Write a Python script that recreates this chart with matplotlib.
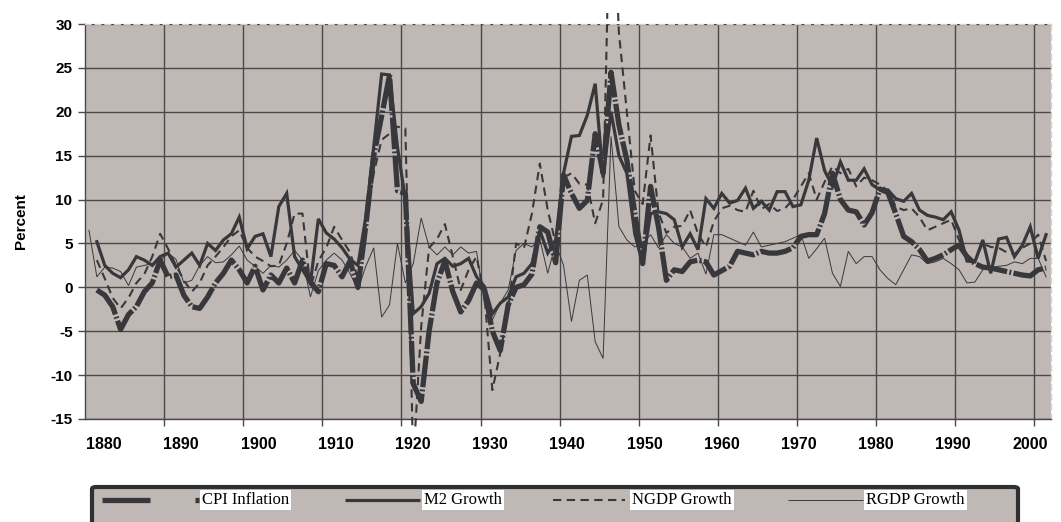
import matplotlib

matplotlib.use("Agg")
import matplotlib.pyplot as plt
import numpy as np
from matplotlib.lines import Line2D
from matplotlib.patches import Rectangle, FancyBboxPatch

plt.rcParams["axes.unicode_minus"] = False

nan = np.nan
years = np.arange(1880, 2002)

cpi = [
    nan, -0.3, -0.9, -2.2, -4.8, -3.1, -2.2, -0.5, 0.5, 3.1,
    1.2, 1.4, -0.9, -2.2, -2.4, -1.1, 0.5, 1.6, 3.1, 2.0,
    0.5, 2.4, -0.3, 1.4, 0.5, 2.2, 0.5, 3.1, 0.6, -0.5,
    2.7, 2.5, 1.2, 3.0, 0.0, 7.0, 15.0, 19.5, 24.2, 11.0,
    10.7, -11.0, -13.0, -5.0, 0.5, 3.0, -0.5, -2.8, -1.5, 0.5,
    -0.3, -5.0, -7.2, -2.0, 0.0, 0.3, 1.5, 6.9, 6.3, 2.8,
    12.8, 10.7, 9.0, 9.9, 17.5, 13.0, 24.5, 18.5, 14.5, 8.5,
    2.7, 11.5, 6.9, 0.8, 2.0, 1.8, 2.9, 3.1, 2.9, 1.4,
    1.9, 2.4, 4.1, 3.9, 3.7, 4.1, 3.9, 3.9, 4.1, 4.5,
    5.8, 6.0, 6.0, 8.4, 13.0, 10.0, 8.8, 8.6, 7.1, 8.5,
    11.2, 10.8, 8.4, 5.8, 5.2, 4.3, 3.0, 3.3, 3.7, 4.3,
    4.8, 3.5, 2.7, 2.3, 2.2, 2.0, 1.8, 1.6, 1.4, 1.3,
    2.0, 2.2,
]

m2 = [
    nan, 5.2, 2.5, 1.6, 1.1, 2.0, 3.5, 3.1, 2.5, 3.5,
    3.9, 2.3, 3.1, 3.9, 2.5, 5.0, 4.2, 5.4, 6.1, 8.0,
    4.4, 5.8, 6.1, 3.5, 9.2, 10.7, 3.5, 2.0, 0.5, 7.8,
    6.2, 5.5, 4.5, 3.2, 2.5, 8.0, 16.0, 24.3, 24.2, 16.0,
    10.0, -3.0, -2.2, -0.7, 2.7, 3.3, 2.4, 2.7, 3.3, 1.2,
    0.1, -3.0, -1.8, -1.1, 1.2, 1.6, 2.7, 6.5, 3.9, 5.4,
    13.0, 17.2, 17.3, 19.6, 23.2, 12.5, 20.0, 15.0, 13.0, 6.1,
    2.7, 8.4, 8.6, 8.4, 7.7, 4.6, 6.1, 4.3, 10.1, 9.0,
    10.7, 9.6, 9.9, 11.3, 9.0, 9.8, 8.8, 10.9, 10.9, 9.2,
    9.4, 12.2, 17.0, 13.3, 11.5, 14.3, 12.2, 12.2, 13.5, 11.7,
    11.1, 11.1, 10.1, 9.8, 10.7, 8.8, 8.2, 8.0, 7.7, 8.6,
    6.5, 3.0, 2.9, 5.4, 1.6, 5.5, 5.7, 3.5, 4.8, 6.9,
    3.3, 6.0,
]

ngdp = [
    nan, 3.1, 1.0, -1.2, -2.4, -1.2, 0.5, 1.5, 3.5, 6.1,
    4.4, 2.5, 0.8, -0.5, 0.5, 2.5, 3.5, 4.6, 5.8, 6.5,
    4.5, 3.5, 3.0, 2.4, 2.5, 5.0, 8.4, 8.4, 0.0, 3.0,
    4.5, 6.9, 5.4, 4.0, 1.0, 7.0, 13.0, 16.8, 17.5, 18.3,
    18.1, -20.0, -4.5, 4.5, 5.5, 7.2, 3.5, -0.3, 2.0, 3.5,
    -1.0, -11.7, -7.5, -2.5, 5.0, 4.5, 8.4, 14.1, 8.8, 5.0,
    12.5, 13.0, 11.8, 11.7, 7.3, 10.0, 50.0, 29.0, 20.0, 11.0,
    9.5, 17.3, 8.5, 6.2, 6.9, 7.0, 8.8, 6.1, 4.6, 7.5,
    9.0, 9.3, 8.8, 8.6, 11.0, 8.9, 9.5, 8.7, 9.0, 10.0,
    11.5, 13.0, 10.0, 12.0, 13.8, 13.0, 13.5, 11.5, 12.5, 12.2,
    11.7, 11.0, 9.2, 8.8, 9.0, 8.0, 6.5, 6.9, 7.3, 7.7,
    5.4, 3.5, 3.0, 5.0, 4.6, 4.5, 4.0, 3.8, 4.5, 5.0,
    6.0, 3.0,
]

rgdp = [
    6.5, 1.2, 2.3, 2.2, 1.8, 0.2, 2.3, 2.5, 2.7, 3.0,
    3.9, 3.2, 0.5, 0.8, 2.5, 3.5, 2.8, 2.9, 3.7, 4.7,
    3.1, 2.4, 1.6, 2.5, 2.3, 3.1, 4.2, 3.1, -1.1, 1.9,
    3.1, 3.9, 3.1, 1.6, -0.3, 2.4, 4.5, -3.4, -2.0, 5.0,
    0.5, 2.7, 7.9, 4.6, 3.7, 4.6, 3.7, 4.6, 3.9, 4.1,
    -1.8, -3.7, -1.8, -0.3, 4.2, 5.0, 4.6, 5.5, 1.6, 5.0,
    2.5, -3.9, 0.8, 1.4, -6.2, -8.1, 17.2, 6.9, 5.4, 4.6,
    5.0, 6.0, 4.5, 6.0, 5.0, 4.6, 3.3, 3.9, 1.5, 6.0,
    6.0, 5.6, 5.2, 4.8, 6.3, 4.6, 4.8, 5.0, 5.2, 5.6,
    6.0, 3.3, 4.4, 5.6, 1.6, 0.1, 4.1, 2.7, 3.5, 3.5,
    2.0, 1.0, 0.3, 2.0, 3.7, 3.5, 2.7, 2.9, 3.3, 2.7,
    2.0, 0.5, 0.6, 2.0, 2.2, 2.4, 2.5, 2.9, 2.7, 3.3,
    3.3, 1.2,
]

series_names = ["CPI Inflation", "M2 Growth", "NGDP Growth", "RGDP Growth"]
y_ticks = list(range(-15, 31, 5))
x_labels = [str(y) for y in range(1880, 2001, 10)]

LINE = "#38383c"
BG = "#c0b8b5"
GRID = "#48484a"

styles = [
    dict(lw=3.8, ls=(0, (6.0, 0.45, 0.35, 0.45))),
    dict(lw=2.3, ls="-"),
    dict(lw=1.5, ls=(0, (4.0, 2.6))),
    dict(lw=0.7, ls="-"),
]

fig = plt.figure(figsize=(10.61, 5.22), dpi=100)
W, H = 1061, 522
ax = fig.add_axes([85 / W, (H - 419) / H, 966 / W, 395 / H])
ax.set_facecolor(BG)

x = years + 0.5
clip = Rectangle((0, -0.028), 1, 1.056, transform=ax.transAxes, facecolor="none", edgecolor="none")
ax.add_patch(clip)
for vals, st in zip([cpi, m2, ngdp, rgdp], styles):
    (ln,) = ax.plot(x, vals, color=LINE, linewidth=st["lw"], linestyle=st["ls"],
                    solid_joinstyle="miter", dash_capstyle="butt", zorder=3)
    ln.set_clip_path(clip)

ax.set_xlim(1880, 1880 + 966 / 7.91)
ax.set_ylim(-15, 30)
ax.set_yticks(y_ticks)
ax.set_xticks(range(1890, 2001, 10))
ax.set_xticklabels([])
ax.grid(True, color=GRID, linewidth=1.0, zorder=1)
ax.set_axisbelow(True)
ax.tick_params(axis="both", direction="out", length=5, width=1, color=GRID)
ax.tick_params(axis="y", labelsize=11, pad=4)
for lab in ax.get_yticklabels():
    lab.set_fontfamily("Liberation Sans")
    lab.set_fontweight("bold")

for side in ["left", "bottom"]:
    ax.spines[side].set_color(GRID)
    ax.spines[side].set_linewidth(1.0)
for side in ["top", "right"]:
    ax.spines[side].set_color("#d8d2cf")
    ax.spines[side].set_linestyle((0, (4, 3)))
    ax.spines[side].set_linewidth(1.0)

# x labels sit slightly off the gridlines, as in the original
for k, lab in enumerate(x_labels):
    px = 104 + k * 77.2
    xv = 1880 + (px - 85) / 7.91
    ax.text(xv, -0.045, lab, transform=ax.get_xaxis_transform(), ha="center", va="top",
            fontsize=11.5, fontweight="bold", family="Liberation Sans")

ax.set_ylabel("Percent", fontsize=11, fontweight="bold", family="Liberation Sans", labelpad=16)

# legend box
box = FancyBboxPatch((92 / W, -0.02), 926 / W, (H - 487) / H + 0.02, boxstyle="round,pad=0,rounding_size=0.004",
                     transform=fig.transFigure, facecolor=BG, edgecolor="#303033", linewidth=3)
fig.add_artist(box)
ly = 1 - 500 / H
handles = [(102, 150), (345, 420), (553, 625), (788, 863)]
text_x = [202, 424, 632, 866]
for i, ((x0, x1), tx, st, name) in enumerate(zip(handles, text_x, styles, series_names)):
    ls = "-" if i == 0 else st["ls"]
    fig.add_artist(Line2D([x0 / W, x1 / W], [ly, ly], transform=fig.transFigure, color=LINE,
                          linewidth=st["lw"], linestyle=ls, solid_capstyle="butt"))
    fig.text(tx / W, ly, name, ha="left", va="center", fontsize=12, family="Liberation Serif",
             bbox=dict(facecolor="white", edgecolor="none", pad=1.5))
fig.add_artist(Line2D([195 / W, 199 / W], [ly, ly], transform=fig.transFigure, color=LINE,
                      linewidth=3.8, solid_capstyle="butt"))

fig.savefig("out.png", dpi=100)
